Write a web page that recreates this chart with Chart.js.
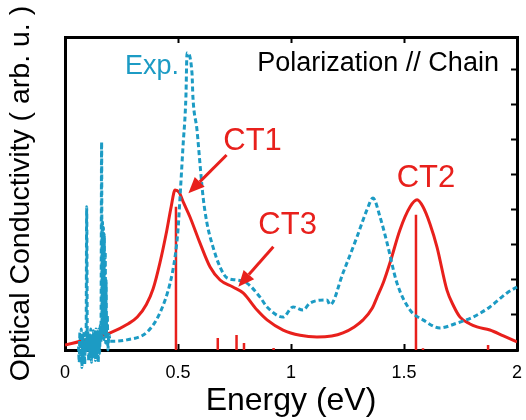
<!DOCTYPE html>
<html>
<head>
<meta charset="utf-8">
<script src="https://cdn.jsdelivr.net/npm/chart.js@4/dist/chart.umd.min.js"></script>
<style>
    html, body { margin: 0; padding: 0; background: #fff; }
    canvas { display: block; }
</style>
</head>
<body>
<canvas id="chart" width="526" height="420"></canvas>
<script>
/* Optical conductivity: theory (red) vs experiment (blue dotted) */

const FONT = "'Liberation Sans', Arial, Helvetica, sans-serif";
const RED = 'rgb(232, 32, 28)';
const BLUE = 'rgb(28, 155, 196)';

// theory curve (eV, arb. u.)
const theoryX = [0, 0.1, 0.2, 0.28, 0.32, 0.36, 0.39, 0.42, 0.45, 0.47, 0.487, 0.505, 0.525, 0.553,
    0.597, 0.642, 0.686, 0.743, 0.788, 0.85, 0.894, 0.965, 1.04, 1.115, 1.18, 1.23, 1.28, 1.319,
    1.36, 1.381, 1.41, 1.438, 1.482, 1.527, 1.558, 1.584, 1.615, 1.646, 1.69, 1.72, 1.748, 1.79,
    1.823, 1.88, 1.94, 2.0];
const theoryY = [0.14, 0.3, 0.49, 0.75, 0.94, 1.3, 1.75, 2.49, 3.4, 4.1, 4.57, 4.5, 4.2, 3.8,
    3.06, 2.37, 2.0, 1.8, 1.63, 1.14, 0.86, 0.57, 0.42, 0.37, 0.4, 0.49, 0.66, 0.86,
    1.2, 1.51, 1.95, 2.49, 3.43, 4.09, 4.29, 4.09, 3.6, 2.94, 1.71, 1.25, 0.94, 0.75,
    0.66, 0.57, 0.4, 0.23];

// transition strengths (sticks)
const stickX = [0.491, 0.676, 0.759, 0.792, 0.923, 1.553, 1.584, 1.872];
const stickH = [4.09, 0.34, 0.43, 0.2, 0.06, 3.86, 0.05, 0.14];

// experiment (noisy far-infrared part first)
const expX = [0.06, 0.063, 0.066, 0.069, 0.072, 0.075, 0.078, 0.081, 0.084, 0.087, 0.09, 0.093,
    0.096, 0.099, 0.102, 0.105, 0.108, 0.111, 0.114, 0.117, 0.12, 0.123, 0.126, 0.129, 0.132,
    0.135, 0.138, 0.141, 0.144, 0.147, 0.15, 0.153, 0.156, 0.159, 0.162, 0.164, 0.166, 0.168,
    0.17, 0.172, 0.174, 0.176, 0.178, 0.18, 0.182, 0.184, 0.187, 0.19, 0.194, 0.2,
    0.274, 0.363, 0.42, 0.465, 0.487, 0.5,
    0.509, 0.522, 0.535, 0.54, 0.562, 0.566, 0.584, 0.597, 0.611, 0.628, 0.655, 0.686, 0.717,
    0.761, 0.805, 0.863, 0.894, 0.965, 1.009, 1.053, 1.084, 1.159, 1.173, 1.23, 1.292, 1.336,
    1.363, 1.394, 1.425, 1.469, 1.527, 1.584, 1.659, 1.735, 1.805, 1.88, 1.956, 2.0];
const expY = [0.1, -0.35, 0.5, -0.2, 0.6, -0.5, 0.4, -0.3, 0.55, -0.4, 0.3, -0.1,
    4.09, 0.0, 0.5, -0.3, 0.45, -0.2, 0.6, -0.35, 0.4, -0.25, 0.55, -0.1, 0.5,
    -0.3, 0.6, -0.2, 0.45, -0.35, 0.6, -0.1, 0.7, 0.2, 5.94, 0.4, 3.66, 0.5,
    3.5, 0.3, 3.3, 0.5, 2.8, 0.2, 2.0, 0.4, 1.0, 0.0, 0.45, 0.25,
    0.29, 0.51, 1.06, 1.91, 2.66, 3.43,
    4.37, 5.8, 7.23, 8.49, 7.9, 7.23, 6.29, 5.34, 4.37, 3.63, 2.94, 2.37, 2.06,
    2.0, 1.91, 1.51, 1.23, 0.94, 1.23, 1.14, 1.34, 1.43, 1.29, 2.2, 3.23, 4.0,
    4.34, 3.8, 3.06, 1.91, 1.14, 0.86, 0.63, 0.77, 0.94, 1.23, 1.63, 1.8];

const xTicks = [0, 0.5, 1, 1.5, 2];
const Y_MAX = 8.94;

const theoryPoints = theoryX.map((x, i) => ({ x, y: theoryY[i] }));
const expPoints = expX.map((x, i) => ({ x, y: expY[i] }));
const stickPoints = [];
stickX.forEach((x, i) => {
    stickPoints.push({ x, y: 0 }, { x, y: stickH[i] }, { x, y: null });
});

// labels and arrows on top of the plot
const annotations = {
    id: 'annotations',
    afterDatasetsDraw(chart) {
        const { ctx } = chart;
        const sx = chart.scales.x;
        const sy = chart.scales.y;
        const px = v => sx.getPixelForValue(v);
        const py = v => sy.getPixelForValue(v);

        ctx.save();
        ctx.textBaseline = 'middle';

        ctx.font = `27px ${FONT}`;
        ctx.fillStyle = BLUE;
        ctx.textAlign = 'left';
        ctx.fillText('Exp.', px(0.265), py(8.11));

        ctx.fillStyle = '#000';
        ctx.textAlign = 'right';
        ctx.fillText('Polarization // Chain', px(1.92), py(8.18));

        ctx.font = `31px ${FONT}`;
        ctx.fillStyle = RED;
        ctx.textAlign = 'center';
        ctx.fillText('CT1', px(0.83), py(5.97));
        ctx.fillText('CT2', px(1.597), py(4.886));
        ctx.fillText('CT3', px(0.985), py(3.571));

        drawArrow(ctx, px(0.715), py(5.57), px(0.546), py(4.48));
        drawArrow(ctx, px(0.922), py(2.95), px(0.767), py(1.81));
        ctx.restore();
    }
};

function drawArrow(ctx, x1, y1, x2, y2) {
    const ang = Math.atan2(y2 - y1, x2 - x1);
    const headLen = 16;
    const headHalf = 7;
    const bx = x2 - headLen * Math.cos(ang);
    const by = y2 - headLen * Math.sin(ang);

    ctx.strokeStyle = RED;
    ctx.fillStyle = RED;
    ctx.lineWidth = 3;
    ctx.beginPath();
    ctx.moveTo(x1, y1);
    ctx.lineTo(bx, by);
    ctx.stroke();

    ctx.beginPath();
    ctx.moveTo(x2, y2);
    ctx.lineTo(bx + headHalf * Math.sin(ang), by - headHalf * Math.cos(ang));
    ctx.lineTo(bx - headHalf * Math.sin(ang), by + headHalf * Math.cos(ang));
    ctx.closePath();
    ctx.fill();
}

const frameGrid = { drawOnChartArea: false, tickLength: -6, tickWidth: 2, color: '#000' };
const frameBorder = { color: '#000', width: 3 };
const fixedTicks = scale => { scale.ticks = xTicks.map(value => ({ value })); };
const noPadding = scale => {
    scale.paddingLeft = 0;
    scale.paddingRight = 0;
    scale.paddingTop = 0;
    scale.paddingBottom = 0;
};

new Chart(document.getElementById('chart'), {
    type: 'line',
    data: {
        datasets: [
            {
                label: 'Exp.',
                data: expPoints,
                borderColor: BLUE,
                borderWidth: 3,
                borderDash: [5, 3],
                pointRadius: 0,
                cubicInterpolationMode: 'monotone',
                clip: false,
            },
            {
                label: 'Theory',
                data: theoryPoints,
                borderColor: RED,
                borderWidth: 3,
                pointRadius: 0,
                cubicInterpolationMode: 'monotone',
            },
            {
                label: 'Sticks',
                data: stickPoints,
                borderColor: RED,
                borderWidth: 2.5,
                pointRadius: 0,
                spanGaps: false,
                tension: 0,
            },
        ],
    },
    options: {
        responsive: false,
        animation: false,
        devicePixelRatio: 1,
        layout: { padding: 0 },
        plugins: {
            legend: { display: false },
            tooltip: { enabled: false },
        },
        scales: {
            x: {
                type: 'linear',
                position: 'bottom',
                min: 0,
                max: 2,
                afterBuildTicks: fixedTicks,
                ticks: {
                    color: '#000',
                    font: { size: 18, family: FONT },
                    padding: 18,
                    maxRotation: 0,
                    callback: value => String(value),
                },
                grid: frameGrid,
                border: frameBorder,
                title: {
                    display: true,
                    text: 'Energy (eV)',
                    color: '#000',
                    font: { size: 32, family: FONT, lineHeight: 1 },
                    padding: { top: 0, bottom: 3 },
                },
                afterFit(scale) { scale.height = 70; noPadding(scale); },
            },
            xTop: {
                type: 'linear',
                position: 'top',
                min: 0,
                max: 2,
                afterBuildTicks: fixedTicks,
                ticks: { display: false },
                grid: frameGrid,
                border: frameBorder,
                afterFit(scale) { scale.height = 37; noPadding(scale); },
            },
            y: {
                type: 'linear',
                position: 'left',
                min: 0,
                max: Y_MAX,
                ticks: { display: false },
                grid: { display: false },
                border: frameBorder,
                title: {
                    display: true,
                    text: 'Optical Conductivity ( arb. u. )',
                    color: '#000',
                    font: { size: 28.5, family: FONT, lineHeight: 1 },
                    padding: { top: 7, bottom: 0 },
                },
                afterFit(scale) { scale.width = 65; noPadding(scale); },
            },
            yRight: {
                type: 'linear',
                position: 'right',
                min: 0,
                max: Y_MAX,
                ticks: { display: false, stepSize: 1, includeBounds: false },
                grid: frameGrid,
                border: frameBorder,
                afterFit(scale) { scale.width = 9; noPadding(scale); },
            },
        },
    },
    plugins: [annotations],
});
</script>
</body>
</html>
